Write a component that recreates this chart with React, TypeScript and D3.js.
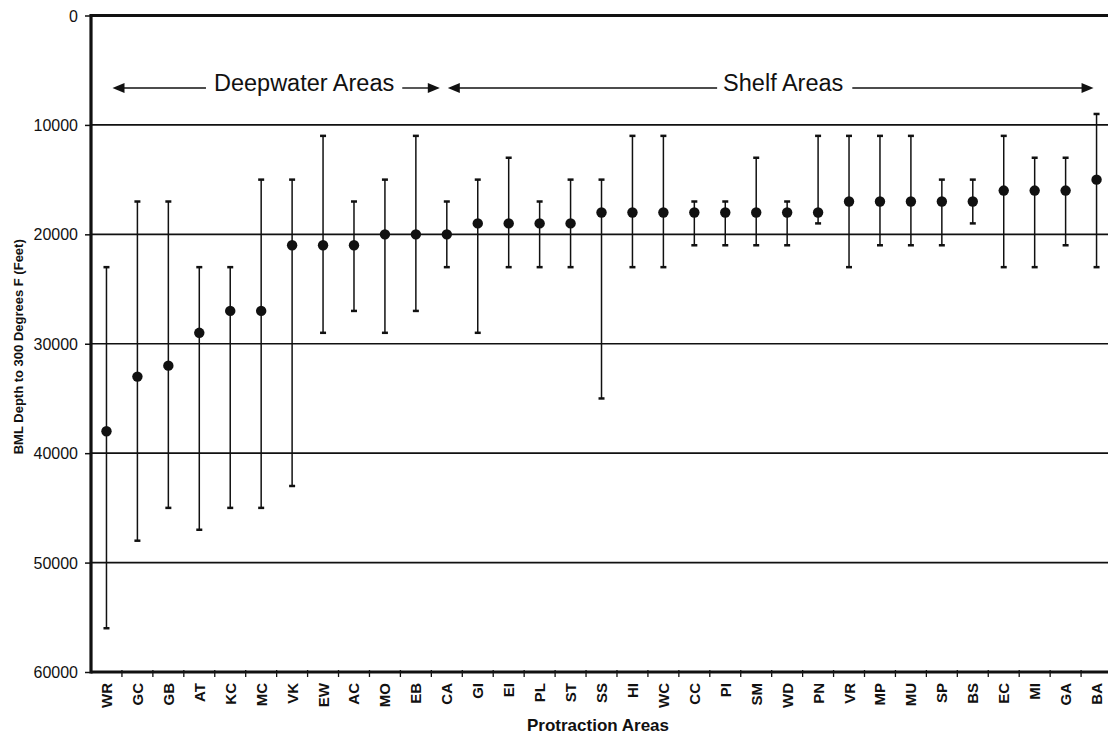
import React, { useRef, useEffect } from "react";
import * as d3 from "d3";

// protraction areas, left to right
const areas = [
  "WR", "GC", "GB", "AT", "KC", "MC", "VK", "EW", "AC", "MO", "EB", "CA",
  "GI", "EI", "PL", "ST", "SS", "HI", "WC", "CC", "PI", "SM", "WD", "PN",
  "VR", "MP", "MU", "SP", "BS", "EC", "MI", "GA", "BA",
];

// average BML depth to 300 F (feet)
const meanDepth = [
  38000, 33000, 32000, 29000, 27000, 27000, 21000, 21000, 21000, 20000, 20000, 20000,
  19000, 19000, 19000, 19000, 18000, 18000, 18000, 18000, 18000, 18000, 18000, 18000,
  17000, 17000, 17000, 17000, 17000, 16000, 16000, 16000, 15000,
];

// shallowest depth (top of bar)
const minDepth = [
  23000, 17000, 17000, 23000, 23000, 15000, 15000, 11000, 17000, 15000, 11000, 17000,
  15000, 13000, 17000, 15000, 15000, 11000, 11000, 17000, 17000, 13000, 17000, 11000,
  11000, 11000, 11000, 15000, 15000, 11000, 13000, 13000, 9000,
];

// deepest depth (bottom of bar)
const maxDepth = [
  56000, 48000, 45000, 47000, 45000, 45000, 43000, 29000, 27000, 29000, 27000, 23000,
  29000, 23000, 23000, 23000, 35000, 23000, 23000, 21000, 21000, 21000, 21000, 19000,
  23000, 21000, 21000, 21000, 19000, 23000, 23000, 21000, 23000,
];

const yTicks = [0, 10000, 20000, 30000, 40000, 50000, 60000];
const gridLines = [10000, 20000, 30000, 40000, 50000];

const FONT = "'Liberation Sans', Arial, sans-serif";

const DepthChart = () => {
  const svgRef = useRef<SVGSVGElement>(null);

  useEffect(() => {
    const svg = d3.select(svgRef.current);
    svg.selectAll("*").remove();

    const left = 91;
    const step = 30.94;
    const top = 15.5;
    const bottom = 672;

    const x = d3
      .scaleBand()
      .domain(areas)
      .range([left, left + areas.length * step])
      .padding(0);
    const cx = (d: string) => (x(d) as number) + x.bandwidth() / 2;

    const y = d3.scaleLinear().domain([0, 60000]).range([top, bottom]);
    const right = x.range()[1];

    // grid lines
    svg
      .append("g")
      .selectAll("line")
      .data(gridLines)
      .enter()
      .append("line")
      .attr("x1", left)
      .attr("x2", right)
      .attr("y1", (d) => y(d))
      .attr("y2", (d) => y(d))
      .attr("stroke", "#111")
      .attr("stroke-width", 1.7);

    // top frame
    svg
      .append("line")
      .attr("x1", left)
      .attr("x2", right)
      .attr("y1", y(0))
      .attr("y2", y(0))
      .attr("stroke", "#111")
      .attr("stroke-width", 2.8);

    // y axis
    const yAxis = d3.axisLeft(y).tickValues(yTicks).tickSize(6).tickFormat(d3.format("d"));
    const ya = svg.append("g").attr("transform", `translate(${left},0)`).call(yAxis);
    ya.select(".domain").remove();
    ya.selectAll("line").attr("stroke", "#111").attr("stroke-width", 1.5);
    ya.selectAll("text")
      .attr("x", -13)
      .attr("dy", "0.35em")
      .style("font-family", FONT)
      .style("font-size", "16px")
      .attr("fill", "#111");
    svg
      .append("line")
      .attr("x1", left)
      .attr("x2", left)
      .attr("y1", top - 1.5)
      .attr("y2", bottom + 1.5)
      .attr("stroke", "#111")
      .attr("stroke-width", 3.2);

    // x axis
    svg
      .append("line")
      .attr("x1", left)
      .attr("x2", right)
      .attr("y1", bottom)
      .attr("y2", bottom)
      .attr("stroke", "#111")
      .attr("stroke-width", 3);
    svg
      .append("g")
      .selectAll("line")
      .data(areas.slice(1))
      .enter()
      .append("line")
      .attr("x1", (d) => x(d) as number)
      .attr("x2", (d) => x(d) as number)
      .attr("y1", bottom - 2)
      .attr("y2", bottom + 5)
      .attr("stroke", "#111")
      .attr("stroke-width", 1.3);
    svg
      .append("g")
      .selectAll("text")
      .data(areas)
      .enter()
      .append("text")
      .attr("transform", (d) => `translate(${cx(d) + 5.5},${bottom + 11}) rotate(-90)`)
      .attr("text-anchor", "end")
      .style("font-family", FONT)
      .style("font-size", "15px")
      .style("font-weight", "bold")
      .attr("fill", "#111")
      .text((d) => d);

    // error bars
    const bars = svg
      .append("g")
      .selectAll("g")
      .data(areas)
      .enter()
      .append("g");
    bars
      .append("line")
      .attr("x1", (d) => cx(d))
      .attr("x2", (d) => cx(d))
      .attr("y1", (d, i) => y(minDepth[i]))
      .attr("y2", (d, i) => y(maxDepth[i]))
      .attr("stroke", "#111")
      .attr("stroke-width", 1.5);
    [minDepth, maxDepth].forEach((arr) => {
      bars
        .append("line")
        .attr("x1", (d) => cx(d) - 3)
        .attr("x2", (d) => cx(d) + 3)
        .attr("y1", (d, i) => y(arr[i]))
        .attr("y2", (d, i) => y(arr[i]))
        .attr("stroke", "#111")
        .attr("stroke-width", 2.5);
    });
    bars
      .append("circle")
      .attr("cx", (d) => cx(d))
      .attr("cy", (d, i) => y(meanDepth[i]))
      .attr("r", 5.2)
      .attr("fill", "#111");

    // region annotations
    const arrowY = 88;
    const annot = (label: string, center: number, tipL: number, tipR: number, gapL: number, gapR: number) => {
      const t = svg
        .append("text")
        .attr("x", center)
        .attr("y", arrowY + 3)
        .attr("text-anchor", "middle")
        .style("font-family", FONT)
        .style("font-size", "23.5px")
        .attr("fill", "#111")
        .text(label);
      const w = (t.node() as SVGTextElement).getComputedTextLength();
      const segs = [
        [tipL + 10, center - w / 2 - gapL],
        [center + w / 2 + gapR, tipR - 10],
      ];
      segs.forEach(([a, b]) => {
        svg
          .append("line")
          .attr("x1", a)
          .attr("x2", b)
          .attr("y1", arrowY)
          .attr("y2", arrowY)
          .attr("stroke", "#111")
          .attr("stroke-width", 1.4);
      });
      svg
        .append("path")
        .attr("d", `M${tipL},${arrowY}L${tipL + 12},${arrowY - 5}L${tipL + 12},${arrowY + 5}Z`)
        .attr("fill", "#111");
      svg
        .append("path")
        .attr("d", `M${tipR},${arrowY}L${tipR - 12},${arrowY - 5}L${tipR - 12},${arrowY + 5}Z`)
        .attr("fill", "#111");
    };
    annot("Deepwater Areas", cx("VK") + 12, cx("WR") + 6, cx("CA") - 7, 8, 8);
    annot("Shelf Areas", cx("SM") + 27, cx("CA") + 1, cx("BA") - 3, 6, 9);

    // axis titles
    svg
      .append("text")
      .attr("x", 598)
      .attr("y", 731)
      .attr("text-anchor", "middle")
      .style("font-family", FONT)
      .style("font-size", "17px")
      .style("font-weight", "bold")
      .attr("fill", "#111")
      .text("Protraction Areas");
    svg
      .append("text")
      .attr("transform", `translate(23,${y(30000) + 3}) rotate(-90)`)
      .attr("text-anchor", "middle")
      .style("font-family", FONT)
      .style("font-size", "13px")
      .style("font-weight", "bold")
      .attr("fill", "#111")
      .text("BML Depth to 300 Degrees F (Feet)");
  }, []);

  return (
    <div style={{ position: "absolute", left: 0, top: 0, background: "#fff" }}>
      <svg ref={svgRef} width={1108} height={736} style={{ display: "block" }} />
    </div>
  );
};

export default function App() {
  return <DepthChart />;
}
